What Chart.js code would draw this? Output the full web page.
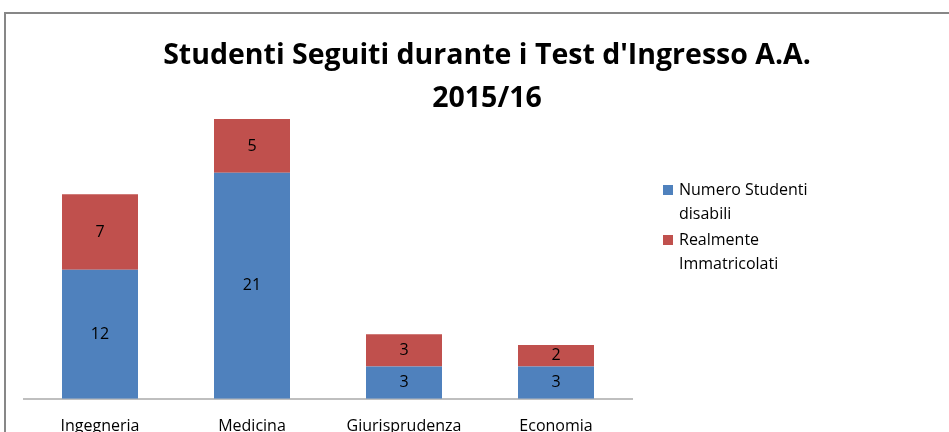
<!DOCTYPE html>
<html>
<head>
<meta charset="utf-8">
<script src="https://cdn.jsdelivr.net/npm/chart.js@4"></script>
<style>
  html, body { margin: 0; padding: 0; background: #fff; overflow: hidden; }
  #frame { position: absolute; left: 4px; top: 12px; width: 1100px; height: 600px; border: 2px solid #878787; }
  #wrap { position: absolute; left: 0; top: 0; width: 974px; height: 462px; }
</style>
</head>
<body>
<div id="frame"></div>
<div id="wrap"><canvas id="c"></canvas></div>
<script>
const categories = ['Ingegneria', 'Medicina', 'Giurisprudenza', 'Economia'];
const studentiDisabili = [12, 21, 3, 3];
const immatricolati = [7, 5, 3, 2];
const seriesNames = ['Numero Studenti disabili', 'Realmente Immatricolati'];
const legendLines = [['Numero Studenti', 'disabili'], ['Realmente', 'Immatricolati']];
const titleLines = ["Studenti Seguiti durante i Test d'Ingresso A.A.", '2015/16'];

const FONT = '"Open Sans", sans-serif';

// numbers in the middle of each segment
const valueLabels = {
  id: 'valueLabels',
  afterDatasetsDraw(chart) {
    const ctx = chart.ctx;
    ctx.save();
    ctx.font = '16px ' + FONT;
    ctx.fillStyle = '#000';
    ctx.textAlign = 'center';
    ctx.textBaseline = 'middle';
    chart.data.datasets.forEach((ds, i) => {
      chart.getDatasetMeta(i).data.forEach((bar, j) => {
        const p = bar.getProps(['x', 'y', 'base'], true);
        ctx.fillText(ds.data[j], p.x, (p.y + p.base) / 2);
      });
    });
    ctx.restore();
  }
};

// title overlapping the plot, and a wrapping legend on the right
const decorations = {
  id: 'decorations',
  afterDraw(chart) {
    const ctx = chart.ctx;
    ctx.save();
    ctx.fillStyle = '#000';
    ctx.textAlign = 'center';
    ctx.textBaseline = 'alphabetic';
    ctx.font = 'bold 28.5px ' + FONT;
    titleLines.forEach((t, i) => ctx.fillText(t, 487, 64 + i * 43));

    ctx.font = '16px ' + FONT;
    ctx.textAlign = 'left';
    ctx.textBaseline = 'middle';
    let y = 190;
    chart.data.datasets.forEach((ds, i) => {
      ctx.fillStyle = ds.backgroundColor;
      ctx.fillRect(663, y - 5, 10, 10);
      ctx.fillStyle = '#000';
      legendLines[i].forEach((line, k) => {
        ctx.fillText(line, 679, y + k * 24);
      });
      y += 50;
    });
    ctx.restore();
  }
};

new Chart(document.getElementById('c'), {
  type: 'bar',
  data: {
    labels: categories,
    datasets: [
      { label: seriesNames[0], data: studentiDisabili, backgroundColor: '#4F81BD' },
      { label: seriesNames[1], data: immatricolati, backgroundColor: '#C0504D' }
    ]
  },
  options: {
    responsive: true,
    maintainAspectRatio: false,
    animation: false,
    layout: { padding: { left: 24, right: 342, top: 76, bottom: 8 } },
    plugins: { legend: { display: false }, title: { display: false }, tooltip: { enabled: false } },
    datasets: { bar: { barPercentage: 0.5, categoryPercentage: 1 } },
    scales: {
      x: {
        stacked: true,
        grid: { display: false, drawTicks: false },
        border: { display: true, color: '#BFBFBF', width: 2 },
        ticks: { color: '#000', font: { family: FONT, size: 16 }, padding: 18 }
      },
      y: {
        stacked: true,
        display: false,
        min: 0,
        max: 30
      }
    }
  },
  plugins: [valueLabels, decorations]
});
</script>
</body>
</html>
